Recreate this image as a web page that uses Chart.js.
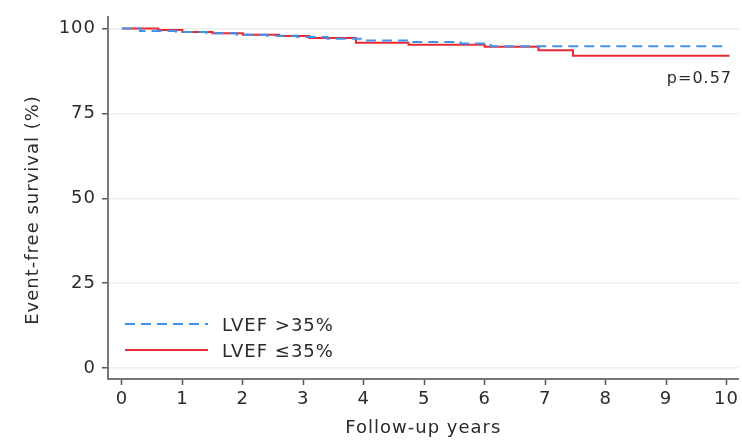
<!DOCTYPE html>
<html>
<head>
<meta charset="utf-8">
<script src="https://cdn.jsdelivr.net/npm/chart.js@4"></script>
<style>
  body { margin: 0; background: #fff; }
</style>
</head>
<body>
<canvas id="kmChart" width="742" height="441"></canvas>
<script>
// Kaplan-Meier curves
const yearsHigh = [0, 0.3, 0.9, 1.4, 1.9, 2.4, 2.9, 3.4, 4.0, 4.8, 5.6, 6.1, 10];
const survHigh = [100, 99.3, 99.0, 98.6, 98.2, 97.9, 97.5, 97.0, 96.5, 96.0, 95.6, 94.8, 94.8];
const yearsLow = [0, 0.6, 1.0, 1.5, 2.0, 2.6, 3.1, 3.87, 4.74, 6.0, 6.89, 7.46, 10.05];
const survLow = [100, 99.6, 99.0, 98.6, 98.2, 97.8, 97.2, 95.8, 95.2, 94.6, 93.6, 92.0, 92.0];
const groupLabels = ['LVEF >35%', 'LVEF \u226435%'];
const xTicks = [0, 1, 2, 3, 4, 5, 6, 7, 8, 9, 10];
const yTicks = [0, 25, 50, 75, 100];
const pValue = 'p=0.57';

const FONT = 'DejaVu Sans';
const TEXT = '#2b2b2b';

function toPoints(xs, ys) {
    return xs.map((x, i) => ({ x: x, y: ys[i] }));
}

// widen text a little, the reference text is stretched
const spacingPlugin = {
    id: 'spacing',
    beforeDraw(chart) {
        chart.ctx.letterSpacing = '1px';
    }
};

// legend inside the plot, p value and y title
const annotPlugin = {
    id: 'annot',
    afterDatasetsDraw(chart) {
        const ctx = chart.ctx;
        const area = chart.chartArea;
        ctx.save();
        ctx.font = '18px "' + FONT + '"';
        ctx.fillStyle = TEXT;
        chart.data.datasets.forEach((ds, i) => {
            const ly = 324 + i * 26;
            ctx.strokeStyle = ds.borderColor;
            ctx.lineWidth = 2;
            ctx.setLineDash(ds.borderDash || []);
            ctx.beginPath();
            ctx.moveTo(area.left + 17, ly);
            ctx.lineTo(area.left + 100, ly);
            ctx.stroke();
            ctx.textAlign = 'left';
            ctx.textBaseline = 'alphabetic';
            ctx.fillText(ds.label, area.left + 114, ly + 7);
        });

        ctx.translate(33, 210);
        ctx.rotate(-Math.PI / 2);
        ctx.textAlign = 'center';
        ctx.textBaseline = 'middle';
        ctx.fillText('Event-free survival (%)', 0, 0);
        ctx.restore();

        ctx.save();
        ctx.font = '16px "' + FONT + '"';
        ctx.fillStyle = TEXT;
        ctx.textAlign = 'right';
        ctx.fillText(pValue, 732, 83);
        ctx.restore();
    }
};

const ctx = document.getElementById('kmChart').getContext('2d');
const chart = new Chart(ctx, {
    type: 'line',
    data: {
        datasets: [
            {
                label: groupLabels[0],
                data: toPoints(yearsHigh, survHigh),
                borderColor: '#3f94ea',
                borderWidth: 2,
                borderDash: [10, 6],
                stepped: 'before',
                pointRadius: 0,
                fill: false
            }, {
                label: groupLabels[1],
                data: toPoints(yearsLow, survLow),
                borderColor: '#e82a34',
                borderWidth: 2,
                stepped: 'before',
                pointRadius: 0,
                fill: false
            }
        ]
    },
    options: {
        responsive: false,
        animation: false,
        layout: { padding: { top: 8, right: 1, left: 0, bottom: 0 } },
        plugins: {
            legend: { display: false },
            tooltip: { enabled: false }
        },
        scales: {
            x: {
                type: 'linear',
                min: -0.23,
                max: 10.2,
                afterBuildTicks: s => { s.ticks = xTicks.map(v => ({ value: v })); },
                afterFit: s => { s.height = 62; },
                grid: { drawOnChartArea: false, tickLength: 6, tickColor: '#555', tickWidth: 1.5 },
                border: { color: '#777', width: 2 },
                ticks: { color: TEXT, padding: 4, maxRotation: 0, font: { family: FONT, size: 18 } },
                title: { display: true, text: 'Follow-up years', color: TEXT, padding: { top: 0, bottom: 2 }, font: { family: FONT, size: 18 } }
            },
            y: {
                min: -3.2,
                max: 103.45,
                afterBuildTicks: s => { s.ticks = yTicks.map(v => ({ value: v })); },
                afterFit: s => { s.width = 108; },
                grid: { color: '#eeeeee', lineWidth: 1.5, tickLength: 6, tickColor: '#555', tickWidth: 1.5 },
                border: { color: '#777', width: 2 },
                ticks: { color: TEXT, padding: 6, font: { family: FONT, size: 18 } }
            }
        }
    },
    plugins: [spacingPlugin, annotPlugin]
});
</script>
</body>
</html>
